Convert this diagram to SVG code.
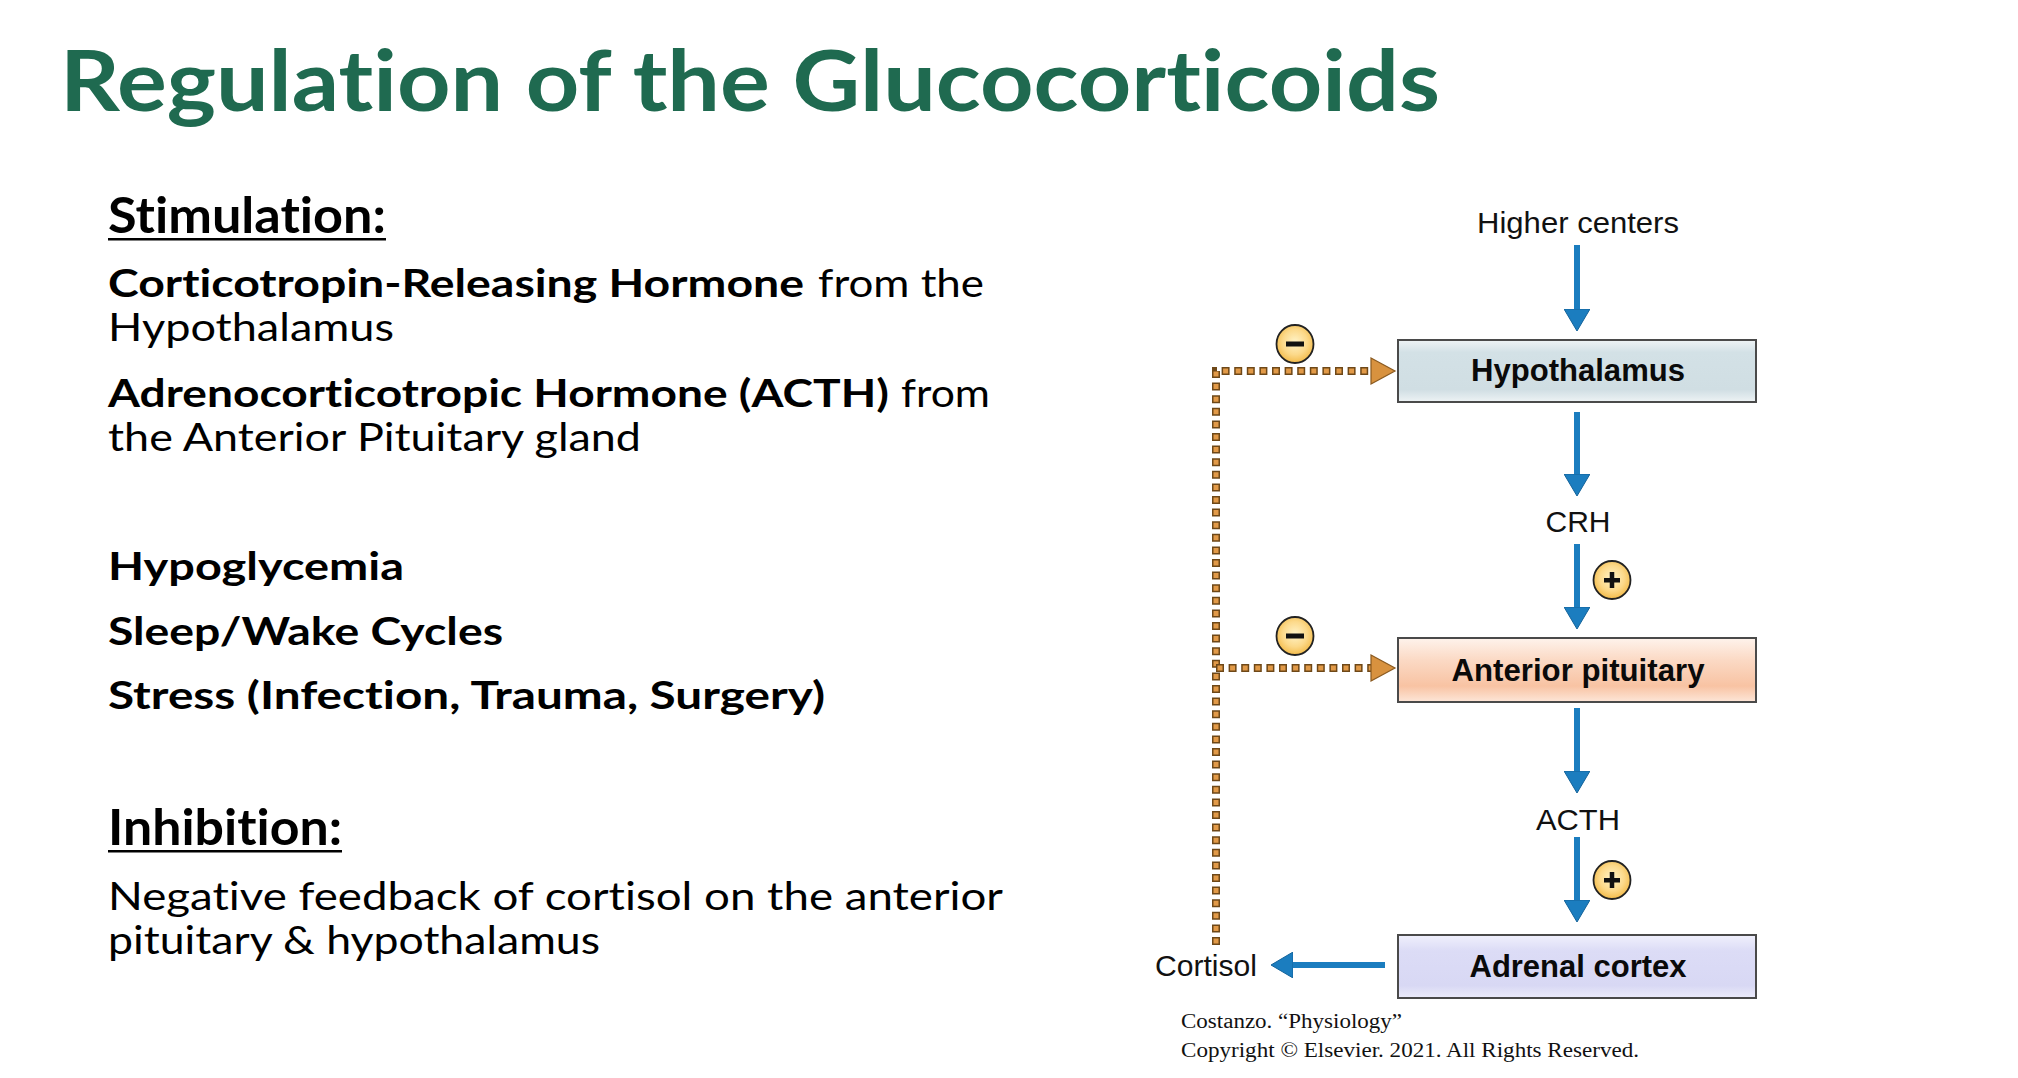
<svg xmlns="http://www.w3.org/2000/svg" width="2018" height="1078" viewBox="0 0 2018 1078">
<style>
text{font-variant-ligatures:none;font-feature-settings:"liga" 0,"clig" 0}
.title{font-family:Lato,"Open Sans",sans-serif;font-weight:700;font-size:85px;fill:#1f6a50}
.head{font-family:Lato,"Open Sans",sans-serif;font-weight:700;font-size:49px;fill:#000}
.b{font-family:Lato,"Open Sans",sans-serif;font-weight:700;font-size:39px;fill:#000}
.r{font-family:Lato,"Open Sans",sans-serif;font-weight:400;font-size:39px;fill:#000}
.lbl{font-family:"Liberation Sans",Arial,sans-serif;font-size:30px;fill:#111}
.box{stroke:#4a4a4a;stroke-width:2}
.bt{font-family:"Liberation Sans",Arial,sans-serif;font-weight:700;font-size:31px;fill:#0a0a0a;text-anchor:middle}
.cite{font-family:"Liberation Serif","Times New Roman",serif;font-size:20px;fill:#111}
.blue{stroke:#1b7dbf;stroke-width:6;fill:none}
.dashU{stroke:#6e4818;stroke-width:8;stroke-dasharray:8 4.6;fill:none}
.dashO{stroke:#e29a48;stroke-width:5;stroke-dasharray:5 7.6;stroke-dashoffset:-1.5;fill:none}
.oh{fill:#d8923f;stroke:#8a5a20;stroke-width:1.2}
.sign{fill:url(#signG);stroke:#222;stroke-width:1.8}
</style>
<defs>
<marker id="bh" viewBox="0 0 22 26" refX="1" refY="13" markerWidth="22" markerHeight="26" markerUnits="userSpaceOnUse" orient="auto">
<path d="M0,0 L22,13 L0,26 Z" fill="#1b7dbf" stroke="#14639a" stroke-width="1"/>
</marker>
<linearGradient id="gH" x1="0" y1="0" x2="0" y2="1">
<stop offset="0" stop-color="#eef3f5"/><stop offset="0.2" stop-color="#d3e1e6"/><stop offset="0.8" stop-color="#d0dee3"/><stop offset="1" stop-color="#eef3f5"/>
</linearGradient>
<linearGradient id="gA" x1="0" y1="0" x2="0" y2="1">
<stop offset="0" stop-color="#fef3ec"/><stop offset="0.35" stop-color="#fbd9c4"/><stop offset="0.75" stop-color="#f8c3a3"/><stop offset="1" stop-color="#fde6d8"/>
</linearGradient>
<linearGradient id="gC" x1="0" y1="0" x2="0" y2="1">
<stop offset="0" stop-color="#f0f0fc"/><stop offset="0.25" stop-color="#dcdcf6"/><stop offset="0.8" stop-color="#d8d8f4"/><stop offset="1" stop-color="#ececfb"/>
</linearGradient>
<radialGradient id="signG" cx="0.5" cy="0.45" r="0.55">
<stop offset="0" stop-color="#fff3c8"/><stop offset="0.6" stop-color="#fcd98a"/><stop offset="1" stop-color="#f3bb4a"/>
</radialGradient>
</defs>
<rect width="2018" height="1078" fill="#fff"/>

<g id="title"><text class="title" x="60" y="111" textLength="1380" lengthAdjust="spacingAndGlyphs">Regulation of the Glucocorticoids</text></g>

<g id="left-text">
<text class="head" x="108" y="233" textLength="278" lengthAdjust="spacingAndGlyphs">Stimulation:</text>
<rect x="108" y="238" width="278" height="2.5" fill="#000"/>
<text class="b" x="108" y="297" textLength="696" lengthAdjust="spacingAndGlyphs">Corticotropin-Releasing Hormone</text>
<text class="r" x="818" y="297" textLength="166" lengthAdjust="spacingAndGlyphs">from the</text>
<text class="r" x="108" y="341" textLength="286" lengthAdjust="spacingAndGlyphs">Hypothalamus</text>
<text class="b" x="108" y="407" textLength="781" lengthAdjust="spacingAndGlyphs">Adrenocorticotropic Hormone (ACTH)</text>
<text class="r" x="901" y="407" textLength="89" lengthAdjust="spacingAndGlyphs">from</text>
<text class="r" x="108" y="451" textLength="533" lengthAdjust="spacingAndGlyphs">the Anterior Pituitary gland</text>
<text class="b" x="108" y="580" textLength="296" lengthAdjust="spacingAndGlyphs">Hypoglycemia</text>
<text class="b" x="108" y="645" textLength="395" lengthAdjust="spacingAndGlyphs">Sleep/Wake Cycles</text>
<text class="b" x="108" y="709" textLength="717" lengthAdjust="spacingAndGlyphs">Stress (Infection, Trauma, Surgery)</text>
<text class="head" x="108" y="845" textLength="234" lengthAdjust="spacingAndGlyphs">Inhibition:</text>
<rect x="108" y="850" width="234" height="2.5" fill="#000"/>
<text class="r" x="108" y="910" textLength="895" lengthAdjust="spacingAndGlyphs">Negative feedback of cortisol on the anterior</text>
<text class="r" x="108" y="954" textLength="492" lengthAdjust="spacingAndGlyphs">pituitary &amp; hypothalamus</text>
</g>

<g id="connectors">
<line class="blue" x1="1577" y1="245" x2="1577" y2="310" marker-end="url(#bh)"/>
<line class="blue" x1="1577" y1="412" x2="1577" y2="475" marker-end="url(#bh)"/>
<line class="blue" x1="1577" y1="544" x2="1577" y2="608" marker-end="url(#bh)"/>
<line class="blue" x1="1577" y1="708" x2="1577" y2="772" marker-end="url(#bh)"/>
<line class="blue" x1="1577" y1="837" x2="1577" y2="901" marker-end="url(#bh)"/>
<line class="blue" x1="1385" y1="965" x2="1292" y2="965" marker-end="url(#bh)"/>
<path class="dashU" d="M1216,945 L1216,371 L1372,371"/>
<path class="dashO" d="M1216,945 L1216,371 L1372,371"/>
<path class="dashU" d="M1216,668 L1372,668"/>
<path class="dashO" d="M1216,668 L1372,668"/>
<polygon class="oh" points="1371,358 1395,371 1371,384"/>
<polygon class="oh" points="1371,655 1395,668 1371,681"/>
</g>

<g id="signs">
<g id="minus1"><ellipse class="sign" cx="1295" cy="344" rx="18.5" ry="19"/><rect x="1286" y="341.5" width="18" height="5" fill="#111"/></g>
<g id="minus2"><ellipse class="sign" cx="1295" cy="636" rx="18.5" ry="19"/><rect x="1286" y="633.5" width="18" height="5" fill="#111"/></g>
<g id="plus1"><ellipse class="sign" cx="1612" cy="580" rx="18.5" ry="19"/><rect x="1604" y="578" width="16" height="4.5" fill="#111"/><rect x="1609.75" y="572" width="4.5" height="16" fill="#111"/></g>
<g id="plus2"><ellipse class="sign" cx="1612" cy="880" rx="18.5" ry="19"/><rect x="1604" y="878" width="16" height="4.5" fill="#111"/><rect x="1609.75" y="872" width="4.5" height="16" fill="#111"/></g>
</g>

<g id="higher-centers"><text class="lbl" x="1578" y="233" text-anchor="middle" textLength="202" lengthAdjust="spacingAndGlyphs">Higher centers</text></g>
<g id="hypothalamus"><rect class="box" x="1398" y="340" width="358" height="62" fill="url(#gH)"/><text class="bt" x="1578" y="381" textLength="214" lengthAdjust="spacingAndGlyphs">Hypothalamus</text></g>
<g id="crh"><text class="lbl" x="1578" y="532" text-anchor="middle" textLength="65" lengthAdjust="spacingAndGlyphs">CRH</text></g>
<g id="anterior-pituitary"><rect class="box" x="1398" y="638" width="358" height="64" fill="url(#gA)"/><text class="bt" x="1578" y="681" textLength="253" lengthAdjust="spacingAndGlyphs">Anterior pituitary</text></g>
<g id="acth"><text class="lbl" x="1578" y="830" text-anchor="middle" textLength="84" lengthAdjust="spacingAndGlyphs">ACTH</text></g>
<g id="adrenal-cortex"><rect class="box" x="1398" y="935" width="358" height="63" fill="url(#gC)"/><text class="bt" x="1578" y="977" textLength="217" lengthAdjust="spacingAndGlyphs">Adrenal cortex</text></g>
<g id="cortisol"><text class="lbl" x="1155" y="976" textLength="102" lengthAdjust="spacingAndGlyphs">Cortisol</text></g>

<g id="citation">
<text class="cite" x="1181" y="1028" textLength="221" lengthAdjust="spacingAndGlyphs">Costanzo. “Physiology”</text>
<text class="cite" x="1181" y="1057" textLength="458" lengthAdjust="spacingAndGlyphs">Copyright © Elsevier. 2021. All Rights Reserved.</text>
</g>
</svg>
